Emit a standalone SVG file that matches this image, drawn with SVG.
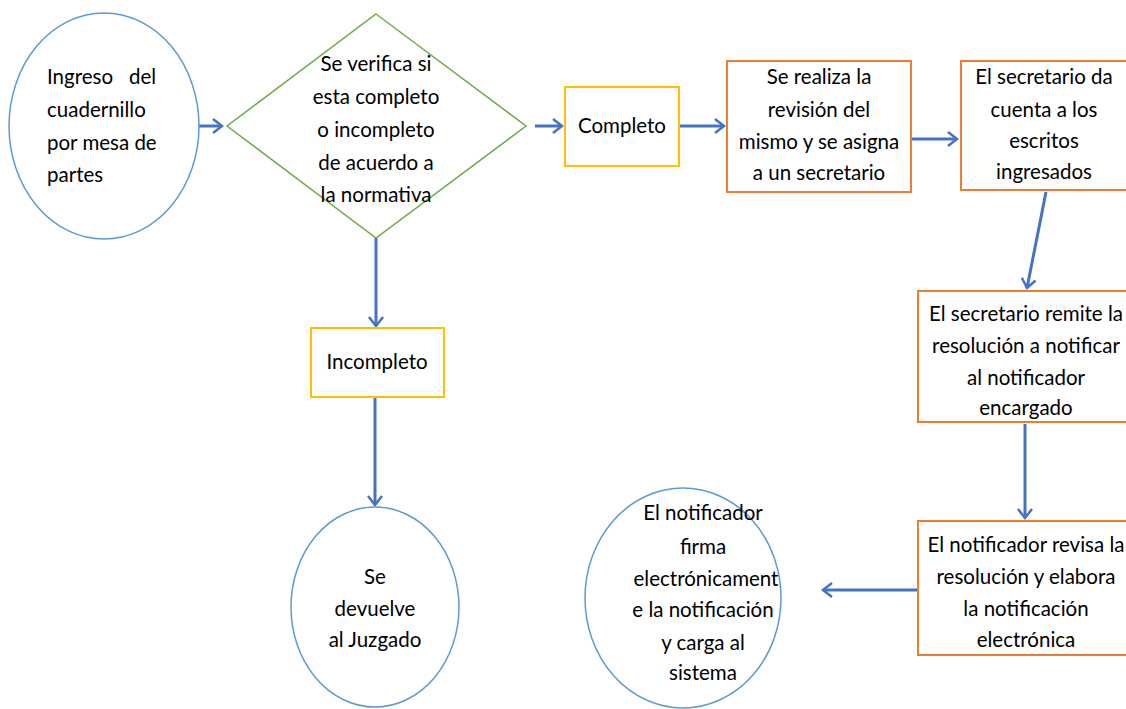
<svg xmlns="http://www.w3.org/2000/svg" width="1126" height="709" viewBox="0 0 1126 709">
<defs>
<marker id="ah" markerUnits="userSpaceOnUse" markerWidth="20" markerHeight="20" refX="12" refY="10" orient="auto">
<path d="M3,3 L12,10 L3,17" fill="none" stroke="#4472C4" stroke-width="2.5"/>
</marker>
<style>
.t{font-family:Lato,"Liberation Sans",sans-serif;font-size:20.5px;fill:#000;text-anchor:middle}
.tl{font-family:Lato,"Liberation Sans",sans-serif;font-size:20.5px;fill:#000}
.ell{fill:#fff;stroke:#5B9BD5;stroke-width:1.5}
.dia{fill:#fff;stroke:#70AD47;stroke-width:1.5}
.yb{fill:#fff;stroke:#FFC000;stroke-width:2}
.ob{fill:#fff;stroke:#ED7D31;stroke-width:2}
.c{stroke:#4472C4;stroke-width:3;fill:none;marker-end:url(#ah)}
</style>
</defs>
<rect width="1126" height="709" fill="#fff"/>
<g id="connectors">
<line class="c" x1="192" y1="126" x2="222" y2="126"/>
<line class="c" x1="535" y1="126" x2="562" y2="126"/>
<line class="c" x1="680" y1="126" x2="724" y2="126"/>
<line class="c" x1="912" y1="139" x2="957" y2="139"/>
<line class="c" x1="1046" y1="192" x2="1027" y2="288"/>
<line class="c" x1="1025" y1="424" x2="1025" y2="518"/>
<line class="c" x1="917" y1="590" x2="823" y2="590"/>
<line class="c" x1="376" y1="238" x2="376" y2="326"/>
<line class="c" x1="375" y1="397" x2="375" y2="505"/>
</g>
<g id="n1">
<ellipse class="ell" cx="104" cy="126" rx="95" ry="113"/>
<text class="tl" x="47" y="84">Ingreso<tspan x="129">del</tspan></text>
<text class="tl" x="47" y="117">cuadernillo</text>
<text class="tl" x="47" y="150">por mesa de</text>
<text class="tl" x="47" y="182">partes</text>
</g>
<g id="n2">
<polygon class="dia" points="376,14 526,126 376,238 227,126"/>
<text class="t" x="376" y="71">Se verifica si</text>
<text class="t" x="376" y="104">esta completo</text>
<text class="t" x="376" y="137">o incompleto</text>
<text class="t" x="376" y="170">de acuerdo a</text>
<text class="t" x="376" y="202">la normativa</text>
</g>
<g id="n3">
<rect class="yb" x="565" y="87" width="114" height="79"/>
<text class="t" x="622" y="133">Completo</text>
</g>
<g id="n4">
<rect class="ob" x="727" y="61" width="184" height="131"/>
<text class="t" x="819" y="84">Se realiza la</text>
<text class="t" x="819" y="117">revisión del</text>
<text class="t" x="819" y="149">mismo y se asigna</text>
<text class="t" x="819" y="180">a un secretario</text>
</g>
<g id="n5">
<rect class="ob" x="961" y="61" width="172" height="129"/>
<text class="t" x="1044" y="84">El secretario da</text>
<text class="t" x="1044" y="117">cuenta a los</text>
<text class="t" x="1044" y="148">escritos</text>
<text class="t" x="1044" y="179">ingresados</text>
</g>
<g id="n6">
<rect class="ob" x="918" y="291" width="214" height="131"/>
<text class="t" x="1026" y="321">El secretario remite la</text>
<text class="t" x="1026" y="353">resolución a notificar</text>
<text class="t" x="1026" y="385">al notificador</text>
<text class="t" x="1026" y="415">encargado</text>
</g>
<g id="n7">
<rect class="ob" x="918" y="521" width="214" height="134"/>
<text class="t" x="1026" y="552">El notificador revisa la</text>
<text class="t" x="1026" y="584">resolución y elabora</text>
<text class="t" x="1026" y="616">la notificación</text>
<text class="t" x="1026" y="647">electrónica</text>
</g>
<g id="n8">
<ellipse class="ell" cx="683" cy="598" rx="98" ry="110"/>
<text class="t" x="703" y="520">El notificador</text>
<text class="t" x="703" y="554">firma</text>
<text class="t" x="706" y="586">electrónicament</text>
<text class="t" x="703" y="617">e la notificación</text>
<text class="t" x="703" y="650">y carga al</text>
<text class="t" x="703" y="680">sistema</text>
</g>
<g id="n9">
<rect class="yb" x="311" y="328" width="133" height="69"/>
<text class="t" x="377" y="369">Incompleto</text>
</g>
<g id="n10">
<ellipse class="ell" cx="375" cy="607" rx="84" ry="100"/>
<text class="t" x="375" y="584">Se</text>
<text class="t" x="375" y="616">devuelve</text>
<text class="t" x="375" y="647">al Juzgado</text>
</g>
</svg>
